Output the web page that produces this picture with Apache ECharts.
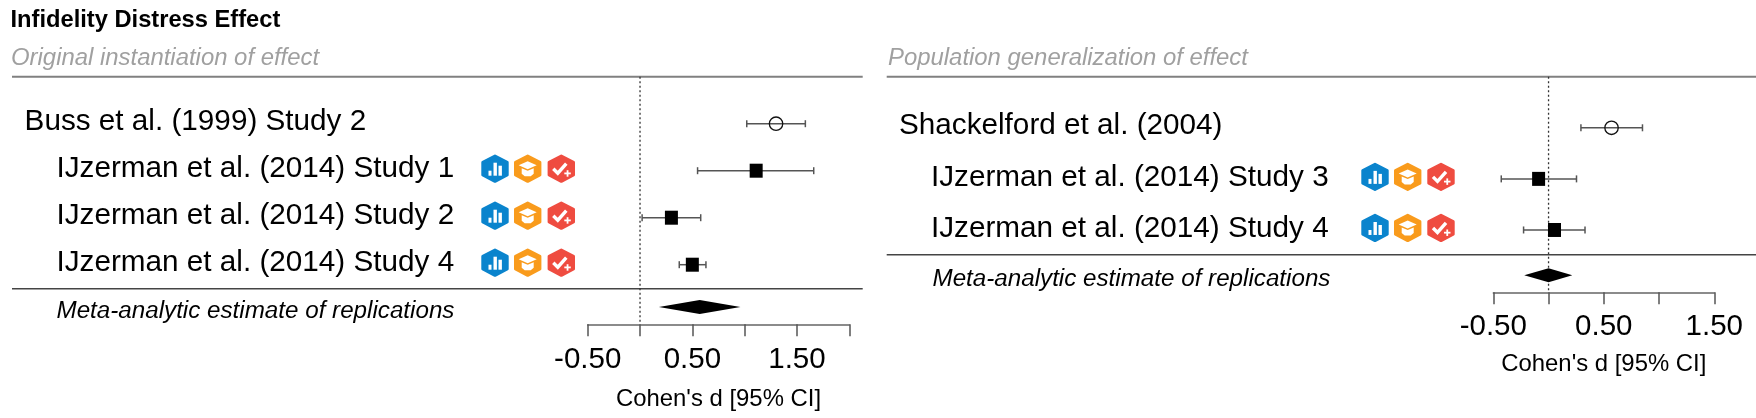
<!DOCTYPE html>
<html><head><meta charset="utf-8">
<style>html,body{margin:0;padding:0;background:#fff}#c{width:1756px;height:418px}</style>
<script src="https://cdn.jsdelivr.net/npm/echarts@6/dist/echarts.min.js"></script>
</head><body><div id="c"></div>
<script>
const chartTitle = "Infidelity Distress Effect";
const panelTitles = ["Original instantiation of effect", "Population generalization of effect"];
const axisTitle = "Cohen's d [95% CI]";
const metaLabel = "Meta-analytic estimate of replications";

const leftStudies = ["Buss et al. (1999) Study 2","IJzerman et al. (2014) Study 1","IJzerman et al. (2014) Study 2","IJzerman et al. (2014) Study 4"];
const leftLow  = [1.02, 0.55, 0.02, 0.375];
const leftEst  = [1.30, 1.11, 0.30, 0.50];
const leftHigh = [1.58, 1.66, 0.58, 0.63];
const leftMeta = [0.18, 0.57, 0.96];
const leftTicks = [-0.5, 2.0];

const rightStudies = ["Shackelford et al. (2004)","IJzerman et al. (2014) Study 3","IJzerman et al. (2014) Study 4"];
const rightLow  = [0.293, -0.428, -0.226];
const rightEst  = [0.57, -0.09, 0.054];
const rightHigh = [0.85, 0.253, 0.33];
const rightMeta = [-0.22, 0.0, 0.215];
const rightTicks = [-0.5, 1.5];

const FONT = '"Liberation Sans", Arial, sans-serif';
const panels = [
  {studies:leftStudies, low:leftLow, est:leftEst, high:leftHigh, meta:leftMeta, range:leftTicks,
   grid:{left:587.7, top:76.7, width:261.6, height:247.6}, yMax:4.268, metaRow:3.9,
   origX:24.6, repX:56.5, metaX:56.5, icons:[495,527.7,561.3], metaDy:4.5, labelMargin:21, nameGap:63},
  {studies:rightStudies, low:rightLow, est:rightEst, high:rightHigh, meta:rightMeta, range:rightTicks,
   grid:{left:1493.3, top:76.7, width:221, height:215.6}, yMax:3.22, metaRow:2.887,
   origX:899, repX:931, metaX:932.5, icons:[1375,1407.7,1441], metaDy:4, labelMargin:20, nameGap:60}
];

function hexagon(cx, cy, fill){
  const r=12.6, w=12.2;
  return {type:'polygon', shape:{points:[[cx,cy-r],[cx+w,cy-r/2],[cx+w,cy+r/2],[cx,cy+r],[cx-w,cy+r/2],[cx-w,cy-r/2]]},
    style:{fill:fill, stroke:fill, lineWidth:3, lineJoin:'round'}, silent:true};
}
function iconSet(xs, y){
  const out=[], W='#fff';
  const bx=xs[0], ox=xs[1], rx=xs[2];
  out.push(hexagon(bx,y,'#0a84cd'));
  [[-6.5,2,3,5],[-1.5,-6,3.4,13],[3.5,-3,3.4,10]].forEach(b=>out.push({type:'rect',shape:{x:bx+b[0],y:y+b[1],width:b[2],height:b[3]},style:{fill:W},silent:true}));
  out.push(hexagon(ox,y,'#f99b1c'));
  out.push({type:'polygon',shape:{points:[[ox,y-7.5],[ox+9,y-3.5],[ox,y+0.5],[ox-9,y-3.5]]},style:{fill:W},silent:true});
  out.push({type:'polygon',shape:{points:[[ox-6,y-0.5],[ox,y+2],[ox+6,y-0.5],[ox+6,y+5],[ox+3,y+7.5],[ox-3,y+7.5],[ox-6,y+5]]},style:{fill:W},silent:true});
  out.push(hexagon(rx,y,'#ef4c40'));
  out.push({type:'polyline',shape:{points:[[rx-8,y],[rx-3.5,y+4.5],[rx+5,y-5]]},style:{stroke:W,lineWidth:3.4,fill:null},silent:true});
  out.push({type:'rect',shape:{x:rx+3,y:y+3.8,width:6.5,height:1.8},style:{fill:W},silent:true});
  out.push({type:'rect',shape:{x:rx+5.35,y:y+1.5,width:1.8,height:6.5},style:{fill:W},silent:true});
  return out;
}

const grids=[], xAxes=[], yAxes=[], series=[];
panels.forEach((p,i)=>{
  grids.push(Object.assign({containLabel:false}, p.grid));
  xAxes.push({type:'value', gridIndex:i, min:p.range[0], max:p.range[1], interval:0.5,
    axisLine:{show:true, onZero:false, lineStyle:{color:'#666',width:1.5}},
    axisTick:{show:true, length:12, lineStyle:{color:'#555',width:1.5}},
    splitLine:{show:false},
    axisLabel:{fontFamily:FONT, fontSize:29.5, color:'#000', margin:p.labelMargin, showMinLabel:true, showMaxLabel:true, hideOverlap:false,
      formatter:v=>{const k=Math.round(v*2); return ((k%2)+2)%2===1 ? v.toFixed(2) : '';}},
    name:axisTitle, nameLocation:'middle', nameGap:p.nameGap,
    nameTextStyle:{fontFamily:FONT, fontSize:23.9, color:'#000'}});
  yAxes.push({type:'value', gridIndex:i, inverse:true, min:-1, max:p.yMax, show:false});
  // dotted reference line at zero
  series.push({type:'custom', xAxisIndex:i, yAxisIndex:i, coordinateSystem:'cartesian2d', clip:false, silent:true, z:1,
    data:[[0,-1]],
    renderItem:(params,api)=>{
      const a=api.coord([0,-1]), b=api.coord([0,p.yMax]);
      return {type:'line',shape:{x1:a[0],y1:a[1],x2:b[0],y2:b[1]},style:{stroke:'#333',lineWidth:1.3,lineDash:[2,2.5]}};
    }});
  // studies
  series.push({type:'custom', xAxisIndex:i, yAxisIndex:i, coordinateSystem:'cartesian2d', clip:false, silent:true, z:3,
    data:p.studies.map((s,k)=>[p.est[k],k,p.low[k],p.high[k]]),
    encode:{x:[0,2,3],y:1},
    renderItem:(params,api)=>{
      const k=params.dataIndex, c=api.coord([api.value(0),api.value(1)]);
      const lo=api.coord([api.value(2),api.value(1)])[0], hi=api.coord([api.value(3),api.value(1)])[0], y=c[1];
      const ln={stroke:'#555',lineWidth:1.5};
      const ch=[
        {type:'line',shape:{x1:lo,y1:y,x2:hi,y2:y},style:ln},
        {type:'line',shape:{x1:lo,y1:y-3.5,x2:lo,y2:y+3.5},style:ln},
        {type:'line',shape:{x1:hi,y1:y-3.5,x2:hi,y2:y+3.5},style:ln}
      ];
      if(k===0){
        ch.push({type:'circle',shape:{cx:c[0],cy:y,r:6.7},style:{fill:'none',stroke:'#111',lineWidth:1.3}});
      } else {
        ch.push({type:'rect',shape:{x:c[0]-6.5,y:y-7,width:13,height:14},style:{fill:'#000'}});
        iconSet(p.icons,y-2).forEach(e=>ch.push(e));
      }
      ch.push({type:'text',style:{text:p.studies[k],x:k===0?p.origX:p.repX,y:y-1.5,fontFamily:FONT,fontSize:29.7,fill:'#000',align:'left',verticalAlign:'middle'}});
      return {type:'group',children:ch};
    }});
  // meta-analytic diamond
  series.push({type:'custom', xAxisIndex:i, yAxisIndex:i, coordinateSystem:'cartesian2d', clip:false, silent:true, z:3,
    data:[[p.meta[1],p.metaRow,p.meta[0],p.meta[2]]],
    encode:{x:[0,2,3],y:1},
    renderItem:(params,api)=>{
      const c=api.coord([api.value(0),api.value(1)]), lo=api.coord([api.value(2),api.value(1)])[0], hi=api.coord([api.value(3),api.value(1)])[0], y=c[1];
      return {type:'group',children:[
        {type:'polygon',shape:{points:[[lo,y],[c[0],y-7],[hi,y],[c[0],y+7]]},style:{fill:'#000'}},
        {type:'text',style:{text:metaLabel,x:p.metaX,y:y+p.metaDy,fontFamily:FONT,fontStyle:'italic',fontSize:24.2,fill:'#000',align:'left',verticalAlign:'middle'}}
      ]};
    }});
});

const rule=(x1,x2,y,color,w)=>({type:'line',silent:true,shape:{x1,y1:y,x2,y2:y},style:{stroke:color,lineWidth:w}});
const graphic=[
  {type:'text',silent:true,style:{text:chartTitle,x:10.5,y:20,fontFamily:FONT,fontWeight:'bold',fontSize:23.7,fill:'#000',verticalAlign:'middle'}},
  {type:'text',silent:true,style:{text:panelTitles[0],x:11,y:58,fontFamily:FONT,fontStyle:'italic',fontSize:23.9,fill:'#a0a0a0',verticalAlign:'middle'}},
  {type:'text',silent:true,style:{text:panelTitles[1],x:888,y:58,fontFamily:FONT,fontStyle:'italic',fontSize:23.9,fill:'#a0a0a0',verticalAlign:'middle'}},
  rule(12,862.7,76.7,'#808080',2), rule(886.7,1756,76.7,'#808080',2),
  rule(12,862.7,288.7,'#444',1.5), rule(886.7,1756,254.7,'#444',1.5)
];

const chart=echarts.init(document.getElementById('c'),null,{renderer:'canvas'});
chart.setOption({animation:false, backgroundColor:'#fff', grid:grids, xAxis:xAxes, yAxis:yAxes, series:series, graphic:graphic, tooltip:{show:false}, legend:{show:false}});
</script></body></html>
